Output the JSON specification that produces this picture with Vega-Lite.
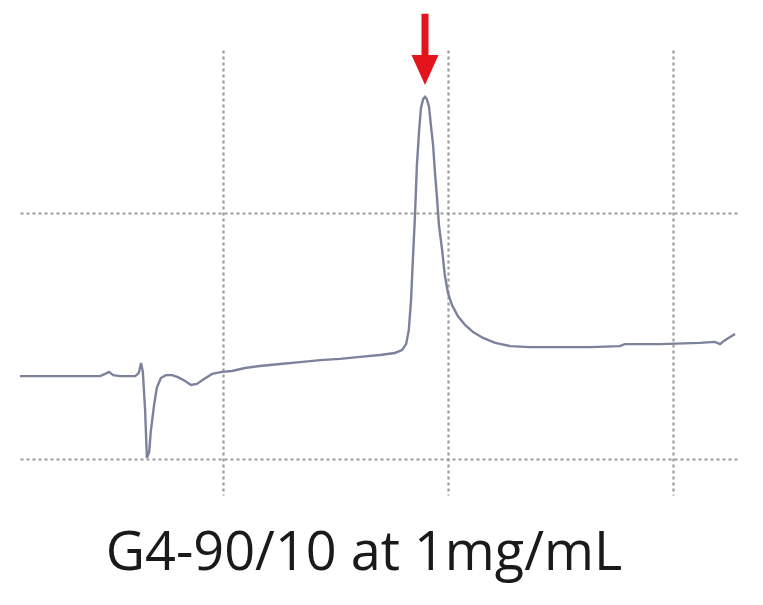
{
  "$schema": "https://vega.github.io/schema/vega-lite/v6.json",
  "width": 720,
  "height": 445,
  "autosize": {"type": "none"},
  "padding": {"left": 20, "top": 50, "right": 23, "bottom": 110},
  "background": "white",
  "title": {
    "text": "G4-90/10 at 1mg/mL",
    "orient": "bottom",
    "anchor": "middle",
    "baseline": "top",
    "offset": 32,
    "dx": -16,
    "font": "Open Sans",
    "fontSize": 54,
    "fontWeight": "normal",
    "color": "#1a1a1a"
  },
  "config": {
    "view": {"stroke": null},
    "axis": {
      "domain": false,
      "ticks": false,
      "labels": false,
      "title": null,
      "grid": true,
      "gridColor": "#9c9c9c",
      "gridDash": [3, 3],
      "gridWidth": 2.2
    }
  },
  "layer": [
    {
      "data": {"values": [
        {"t": 5.5, "v": 33.7}, {"t": 6.39, "v": 33.7}, {"t": 7.28, "v": 33.7}, {"t": 7.39, "v": 34.6},
        {"t": 7.48, "v": 35.4}, {"t": 7.57, "v": 34.1}, {"t": 7.72, "v": 33.7}, {"t": 8.06, "v": 33.7},
        {"t": 8.14, "v": 35.0}, {"t": 8.19, "v": 39.0}, {"t": 8.23, "v": 35.4}, {"t": 8.28, "v": 19.9},
        {"t": 8.32, "v": 0.4}, {"t": 8.37, "v": 2.8}, {"t": 8.41, "v": 11.8}, {"t": 8.48, "v": 22.0},
        {"t": 8.54, "v": 28.9}, {"t": 8.63, "v": 32.9}, {"t": 8.74, "v": 34.1}, {"t": 8.88, "v": 34.1},
        {"t": 9.01, "v": 33.3}, {"t": 9.17, "v": 31.7}, {"t": 9.30, "v": 30.1}, {"t": 9.43, "v": 30.5},
        {"t": 9.59, "v": 32.5}, {"t": 9.77, "v": 34.6}, {"t": 9.99, "v": 35.4}, {"t": 10.21, "v": 35.8},
        {"t": 10.5, "v": 37.0}, {"t": 10.83, "v": 37.8}, {"t": 11.28, "v": 38.6}, {"t": 11.72, "v": 39.4},
        {"t": 12.17, "v": 40.2}, {"t": 12.61, "v": 40.7}, {"t": 13.06, "v": 41.5}, {"t": 13.5, "v": 42.3},
        {"t": 13.83, "v": 43.1}, {"t": 13.99, "v": 44.3}, {"t": 14.08, "v": 46.7}, {"t": 14.14, "v": 52.4},
        {"t": 14.19, "v": 64.6}, {"t": 14.23, "v": 80.9}, {"t": 14.28, "v": 100.0}, {"t": 14.32, "v": 119.5},
        {"t": 14.37, "v": 133.7}, {"t": 14.41, "v": 142.7}, {"t": 14.46, "v": 146.3}, {"t": 14.5, "v": 147.2},
        {"t": 14.54, "v": 146.3}, {"t": 14.59, "v": 143.1}, {"t": 14.63, "v": 135.8}, {"t": 14.68, "v": 127.6},
        {"t": 14.72, "v": 116.7}, {"t": 14.77, "v": 105.3}, {"t": 14.81, "v": 95.1}, {"t": 14.88, "v": 85.0},
        {"t": 14.94, "v": 74.8}, {"t": 15.01, "v": 67.5}, {"t": 15.1, "v": 62.6}, {"t": 15.23, "v": 58.1},
        {"t": 15.39, "v": 54.5}, {"t": 15.57, "v": 51.6}, {"t": 15.79, "v": 49.2}, {"t": 16.06, "v": 47.2},
        {"t": 16.39, "v": 45.9}, {"t": 16.83, "v": 45.5}, {"t": 17.5, "v": 45.5}, {"t": 18.17, "v": 45.5},
        {"t": 18.83, "v": 45.9}, {"t": 18.94, "v": 46.7}, {"t": 19.72, "v": 46.7}, {"t": 20.61, "v": 47.2},
        {"t": 20.94, "v": 47.6}, {"t": 21.06, "v": 46.7}, {"t": 21.14, "v": 48.0}, {"t": 21.28, "v": 49.6},
        {"t": 21.39, "v": 50.8}
      ]},
      "mark": {"type": "line", "color": "#7d829c", "strokeWidth": 2.4},
      "encoding": {
        "x": {"field": "t", "type": "quantitative", "scale": {"domain": [5.5, 21.5], "nice": false, "zero": false},
              "axis": {"values": [10, 15, 20]}},
        "y": {"field": "v", "type": "quantitative", "scale": {"domain": [-14.63, 166.26], "nice": false, "zero": false},
              "axis": {"values": [0, 100]}}
      }
    },
    {
      "data": {"values": [{"t": 14.5, "top": 181, "bottom": 160, "head": 158.1}]},
      "layer": [
        {
          "mark": {"type": "rule", "color": "#e3141b", "strokeWidth": 7},
          "encoding": {
            "x": {"field": "t", "type": "quantitative"},
            "y": {"field": "top", "type": "quantitative"},
            "y2": {"field": "bottom"}
          }
        },
        {
          "mark": {"type": "point", "shape": "M-0.9,-1L0.9,-1L0,1Z", "filled": true, "color": "#e3141b", "opacity": 1, "size": 900},
          "encoding": {
            "x": {"field": "t", "type": "quantitative"},
            "y": {"field": "head", "type": "quantitative"}
          }
        }
      ]
    }
  ]
}
